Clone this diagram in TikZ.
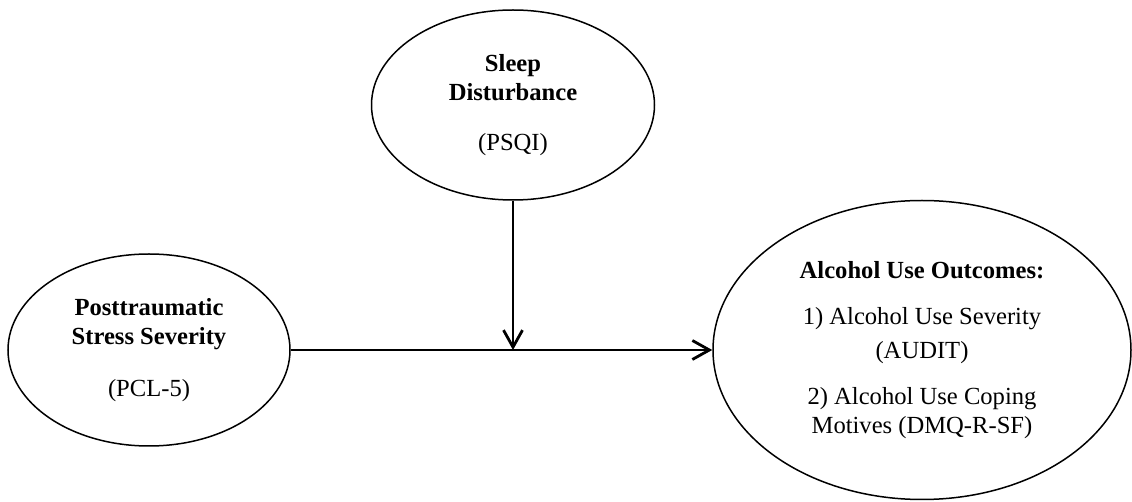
\documentclass[tikz,border=0pt]{standalone}
\usepackage{fontspec}
\setmainfont{Liberation Serif}
\usetikzlibrary{arrows.meta,shapes.geometric}

\tikzset{
  var/.style={draw,ellipse,line width=0.75pt,inner sep=0pt,align=center,
    font=\fontsize{12.3}{14.5}\selectfont},
  effect/.style={line width=1.4pt,-{Straight Barb[length=8.5pt,width=9.5pt]}}
}

\begin{document}
\begin{tikzpicture}[x=0.5pt,y=-0.5pt]
\useasboundingbox (0,0) rectangle (1132,502);

\node[var,minimum width=141pt,minimum height=96pt] (ptsd) at (149,350)
  {\textbf{Posttraumatic}\\\textbf{Stress Severity}\\[11.5pt](PCL-5)};
\node[var,minimum width=141.5pt,minimum height=95pt] (sleep) at (513,105)
  {\textbf{Sleep}\\\textbf{Disturbance}\\[10.5pt](PSQI)};
\node[var,minimum width=209pt,minimum height=149.5pt] (alc) at (922,350)
  {\textbf{Alcohol Use Outcomes:}\\[8.5pt]1) Alcohol Use Severity\\[2.5pt](AUDIT)\\[8.5pt]2) Alcohol Use Coping\\Motives (DMQ-R-SF)};

% moderation path
\coordinate (mod) at (sleep |- ptsd);
\draw[effect] (ptsd) -- (alc);
\draw[effect] (sleep) -- (mod);

\end{tikzpicture}
\end{document}
